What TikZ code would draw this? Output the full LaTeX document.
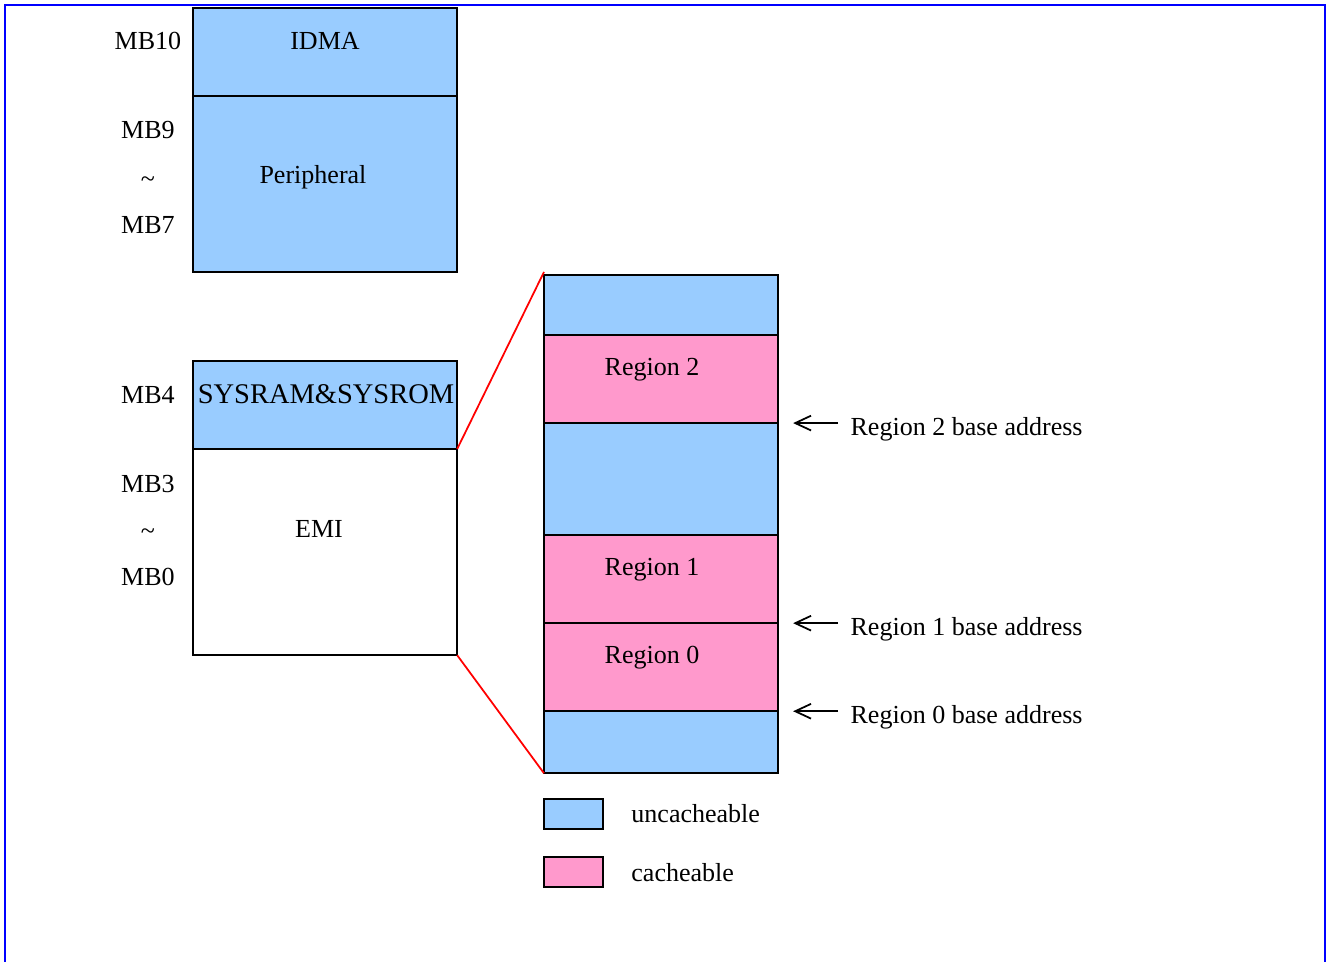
\documentclass[tikz,border=0pt]{standalone}
\usepackage{fontspec}
\setmainfont{Liberation Serif}
\usetikzlibrary{arrows.meta}

\definecolor{uncachecol}{HTML}{99CCFF}
\definecolor{cachecol}{HTML}{FF99CC}

\begin{document}
\begin{tikzpicture}[
    x=0.01cm,
    y=-0.01cm,
    every node/.style={
        font=\fontsize{7.4}{9}\selectfont
    },
    framebox/.style={
        draw=blue,
        line width=0.8pt
    },
    membox/.style={
        draw,
        line width=0.5pt,
        anchor=north west,
        inner sep=0pt,
        outer sep=0pt
    },
    leftbox/.style={
        membox,
        minimum width=2.64cm
    },
    rightbox/.style={
        membox,
        minimum width=2.34cm
    },
    legendbox/.style={
        membox,
        minimum width=0.59cm,
        minimum height=0.30cm
    },
    mblabel/.style={
        anchor=center
    },
    zoomline/.style={
        draw=red,
        line width=0.5pt
    },
    baseptr/.style={
        -{Straight Barb[length=4.5pt,width=4.2pt]},
        line width=0.5pt
    }
]

\useasboundingbox (0,0) rectangle (1326,962);

% Horizontal positions of the columns
\def\MemX{193}
\def\ZoomX{544}
\def\TagX{148}

% ==================================================
% Frame
% ==================================================

\draw[framebox] (5,962) -- (5,5) -- (1325,5) -- (1325,962);

% ==================================================
% Memory map
% ==================================================

\node[leftbox, fill=uncachecol, minimum height=0.88cm]
    (idma) at (\MemX,8) {};
\node[leftbox, fill=uncachecol, minimum height=1.76cm]
    (periph) at (idma.south west) {};

\node[leftbox, fill=uncachecol, minimum height=0.88cm]
    (sysram) at (\MemX,361) {};
\node[leftbox, fill=white, minimum height=2.06cm]
    (emi) at (sysram.south west) {};

\node at (325,41) {IDMA};
\node at (313,177) {Peripheral};
\node[font=\fontsize{8.1}{10}\selectfont] at (326,394) {SYSRAM\&SYSROM};
\node at (319,529) {EMI};

% MB numbers
\node[mblabel] at (\TagX,41) {MB10};
\node[mblabel] at (\TagX,130) {MB9};
\node[mblabel] at (\TagX,182) {\textasciitilde};
\node[mblabel] at (\TagX,225) {MB7};

\node[mblabel] at (\TagX,395) {MB4};
\node[mblabel] at (\TagX,484) {MB3};
\node[mblabel] at (\TagX,534) {\textasciitilde};
\node[mblabel] at (\TagX,577) {MB0};

% ==================================================
% Zoomed view of EMI
% ==================================================

\node[rightbox, fill=uncachecol, minimum height=0.60cm]
    (topfree) at (\ZoomX,275) {};
\node[rightbox, fill=cachecol, minimum height=0.88cm]
    (region2) at (topfree.south west) {};
\node[rightbox, fill=uncachecol, minimum height=1.12cm]
    (midfree) at (region2.south west) {};
\node[rightbox, fill=cachecol, minimum height=0.88cm]
    (region1) at (midfree.south west) {};
\node[rightbox, fill=cachecol, minimum height=0.88cm]
    (region0) at (region1.south west) {};
\node[rightbox, fill=uncachecol, minimum height=0.62cm]
    (botfree) at (region0.south west) {};

\node at (652,370) {Region 2};
\node at (652,570) {Region 1};
\node at (652,658) {Region 0};

\draw[zoomline] (emi.north east) -- ([yshift=0.03cm]topfree.north west);
\draw[zoomline] (emi.south east) -- (botfree.south west);

% Base address pointers
\draw[baseptr] ([xshift=0.60cm]region2.south east)
    -- ([xshift=0.15cm]region2.south east);
\node[anchor=west] at ([xshift=0.60cm,yshift=-0.06cm]region2.south east)
    {Region 2 base address};

\draw[baseptr] ([xshift=0.60cm]region1.south east)
    -- ([xshift=0.15cm]region1.south east);
\node[anchor=west] at ([xshift=0.60cm,yshift=-0.06cm]region1.south east)
    {Region 1 base address};

\draw[baseptr] ([xshift=0.60cm]region0.south east)
    -- ([xshift=0.15cm]region0.south east);
\node[anchor=west] at ([xshift=0.60cm,yshift=-0.06cm]region0.south east)
    {Region 0 base address};

% ==================================================
% Legend
% ==================================================

\node[legendbox, fill=uncachecol] (keyunc) at (\ZoomX,799) {};
\node[anchor=west] at (619,814) {uncacheable};

\node[legendbox, fill=cachecol] (keyc) at (\ZoomX,857) {};
\node[anchor=west] at (619,873) {cacheable};

\end{tikzpicture}
\end{document}
